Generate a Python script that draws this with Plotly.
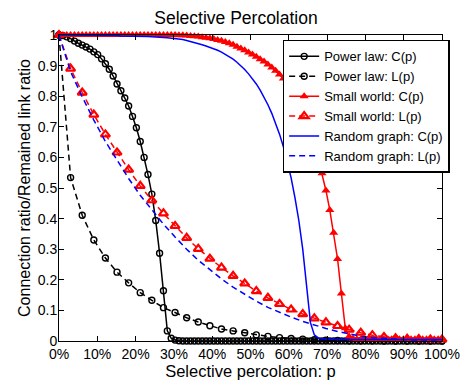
import plotly.graph_objects as go

# sample positions (percent); C curves sampled at every step, L curves every 3rd step
p_full = [i * 100 / 99 for i in range(100)]
p_L = p_full[::3]

power_C = [1.000, 0.998, 0.994, 0.988, 0.980, 0.973, 0.967, 0.961, 0.954, 0.945,
           0.936, 0.922, 0.906, 0.888, 0.866, 0.840, 0.818, 0.794, 0.768, 0.734,
           0.697, 0.652, 0.600, 0.544, 0.480, 0.394, 0.287, 0.164, 0.033, 0.009,
           0.003, 0.001] + [0.0] * 68

power_L = [1.000, 0.534, 0.411, 0.330, 0.271, 0.225, 0.190, 0.158, 0.133, 0.109,
           0.093, 0.076, 0.062, 0.050, 0.039, 0.033, 0.027, 0.020, 0.015, 0.011,
           0.008, 0.006, 0.004, 0.003, 0.002, 0.001, 0.001, 0.001, 0.0, 0.0,
           0.0, 0.0, 0.0, 0.0]

small_C = [1.0] * 31 + [
           0.999, 0.999, 0.998, 0.997, 0.996, 0.995, 0.993, 0.991, 0.989,
           0.987, 0.984, 0.981, 0.977, 0.973, 0.968, 0.962, 0.956, 0.950, 0.943,
           0.936, 0.929, 0.921, 0.913, 0.904, 0.894, 0.883, 0.871, 0.858, 0.843,
           0.826, 0.807, 0.785, 0.760, 0.732, 0.700, 0.650, 0.600, 0.548, 0.492,
           0.428, 0.354, 0.268, 0.155, 0.042, 0.015, 0.008, 0.006, 0.006, 0.006,
           0.006, 0.006, 0.006, 0.006, 0.006, 0.006, 0.006, 0.006, 0.006, 0.006,
           0.006, 0.006, 0.006, 0.006, 0.006, 0.006, 0.006, 0.006, 0.006, 0.006]

small_L = [1.000, 0.890, 0.812, 0.740, 0.675, 0.616, 0.560, 0.507, 0.460, 0.417,
           0.376, 0.337, 0.301, 0.269, 0.240, 0.213, 0.188, 0.163, 0.141, 0.121,
           0.103, 0.088, 0.074, 0.061, 0.049, 0.037, 0.027, 0.019, 0.013, 0.009,
           0.007, 0.006, 0.005, 0.005]

random_C = [1.000, 1.000, 1.000, 1.000, 1.000, 1.000, 0.999, 0.999, 0.999, 0.999,
            0.999, 0.999, 0.998, 0.998, 0.998, 0.998, 0.997, 0.997, 0.997, 0.996,
            0.996, 0.996, 0.995, 0.995, 0.994, 0.994, 0.993, 0.992, 0.991, 0.990,
            0.989, 0.987, 0.985, 0.982, 0.979, 0.976, 0.972, 0.968, 0.964, 0.960,
            0.955, 0.950, 0.944, 0.937, 0.930, 0.921, 0.911, 0.900, 0.887, 0.873,
            0.857, 0.840, 0.820, 0.797, 0.772, 0.744, 0.712, 0.676, 0.635, 0.588,
            0.533, 0.468, 0.393, 0.300, 0.190, 0.060, 0.020, 0.010, 0.007, 0.006] + [0.005] * 30

random_L = [1.000, 0.880, 0.798, 0.722, 0.652, 0.590, 0.531, 0.476, 0.427, 0.382,
            0.340, 0.300, 0.264, 0.232, 0.203, 0.176, 0.152, 0.130, 0.110, 0.093,
            0.078, 0.064, 0.052, 0.041, 0.031, 0.023, 0.016, 0.011, 0.008, 0.005,
            0.004, 0.003, 0.003, 0.003]

x_ticks = [0, 10, 20, 30, 40, 50, 60, 70, 80, 90, 100]
y_ticks = [0, 0.1, 0.2, 0.3, 0.4, 0.5, 0.6, 0.7, 0.8, 0.9, 1]

BLACK, RED, BLUE = "#000000", "#ff0000", "#0000ff"

fig = go.Figure()
fig.add_trace(go.Scatter(x=p_full, y=power_C, name="Power law: C(p)", mode="lines+markers",
                         line=dict(color=BLACK, width=1.5),
                         marker=dict(symbol="circle-open", size=6, color=BLACK, line=dict(width=1.4)),
                         cliponaxis=False))
fig.add_trace(go.Scatter(x=p_L, y=power_L, name="Power law: L(p)", mode="lines+markers",
                         line=dict(color=BLACK, width=1.5, dash="6px,4px"),
                         marker=dict(symbol="circle-open", size=6, color=BLACK, line=dict(width=1.4)),
                         cliponaxis=False))
fig.add_trace(go.Scatter(x=p_full, y=small_C, name="Small world: C(p)", mode="lines+markers",
                         line=dict(color=RED, width=1.5),
                         marker=dict(symbol="triangle-up", size=8, color=RED),
                         cliponaxis=False))
fig.add_trace(go.Scatter(x=p_L, y=small_L, name="Small world: L(p)", mode="lines+markers",
                         line=dict(color=RED, width=1.5, dash="6px,4px"),
                         marker=dict(symbol="triangle-up-open", size=8, color=RED, line=dict(width=2.2)),
                         cliponaxis=False))
fig.add_trace(go.Scatter(x=p_full, y=random_C, name="Random graph: C(p)", mode="lines",
                         line=dict(color=BLUE, width=1.5), cliponaxis=False))
fig.add_trace(go.Scatter(x=p_L, y=random_L, name="Random graph: L(p)", mode="lines",
                         line=dict(color=BLUE, width=1.5, dash="6px,4px"), cliponaxis=False))

font_family = "Liberation Sans, Arial, sans-serif"
axis_common = dict(showgrid=False, zeroline=False, showline=True, linecolor="black",
                   linewidth=1, mirror="ticks", ticks="inside", ticklen=5,
                   tickcolor="black", tickfont=dict(size=14, color="black"))

fig.update_layout(
    width=472, height=385,
    margin=dict(l=59, r=19, t=35, b=39),
    paper_bgcolor="white", plot_bgcolor="white",
    font=dict(family=font_family, color="black"),
    title=dict(text="Selective Percolation", x=0.5, xanchor="center",
               y=1 - 18 / 385, yanchor="middle", font=dict(size=17.5)),
    xaxis=dict(range=[0, 100], tickvals=x_ticks, ticktext=[f"{v}%" for v in x_ticks],
               title=dict(text="Selective percolation: p", font=dict(size=16.5), standoff=0),
               **axis_common),
    yaxis=dict(range=[0, 1], tickvals=y_ticks, ticktext=[f"{v:g}" for v in y_ticks],
               title=dict(text="Connection ratio/Remained link ratio", font=dict(size=16), standoff=3),
               ticklabelstandoff=-2,
               **axis_common),
    legend=dict(x=1.02, y=0.984, xanchor="right", yanchor="top",
                bgcolor="white", bordercolor="black", borderwidth=1.5,
                font=dict(size=13), tracegroupgap=0, itemwidth=30),
    showlegend=True,
)

fig.write_html("out.html")
